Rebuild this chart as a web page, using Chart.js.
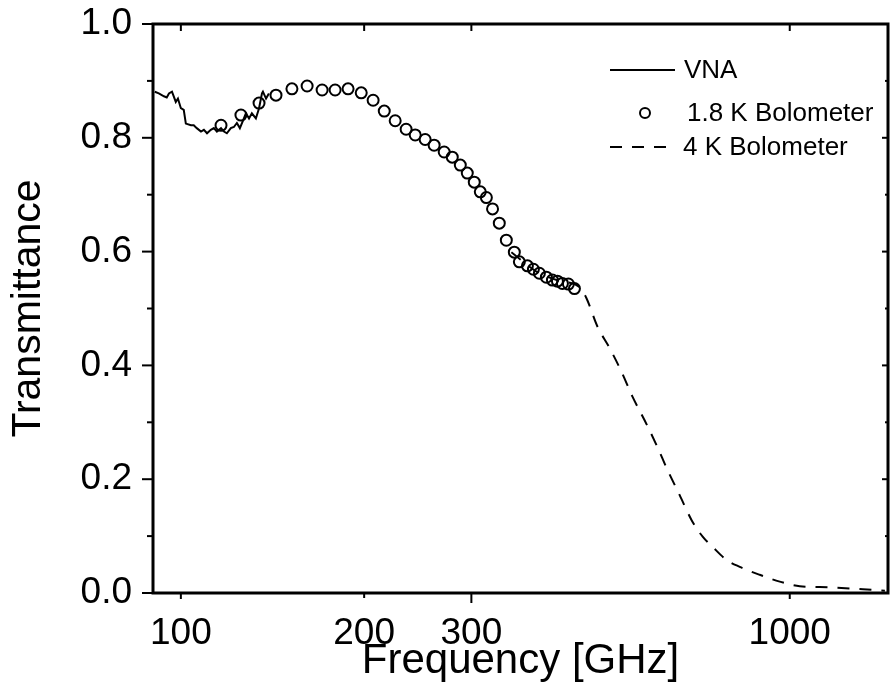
<!DOCTYPE html>
<html>
<head>
<meta charset="utf-8">
<script src="https://cdn.jsdelivr.net/npm/chart.js@4/dist/chart.umd.min.js"></script>
<style>
html,body{margin:0;padding:0;background:#fff;}
#wrap{width:896px;height:694px;position:relative;}
</style>
</head>
<body>
<div id="wrap"><canvas id="c" width="896" height="694"></canvas></div>
<script>
// ---- data ----
const vnaFreq = [90.6, 92.0, 93.8, 94.8, 95.6, 96.7, 98.1, 98.9, 100, 101.1, 101.9, 103.9, 105.0, 106.2, 107.9, 109.1, 110.4, 112.0, 113.3, 114.6, 116.4, 117.7, 119.0, 120.8, 122.2, 123.6, 125.0, 126.0, 127.9, 129.4, 130.8, 132.8, 134.4, 135.9, 136.4, 138.0, 139.5];
const vnaT = [0.881, 0.878, 0.873, 0.871, 0.878, 0.881, 0.863, 0.869, 0.852, 0.849, 0.825, 0.822, 0.822, 0.817, 0.811, 0.814, 0.808, 0.814, 0.817, 0.811, 0.817, 0.811, 0.808, 0.817, 0.819, 0.826, 0.817, 0.826, 0.843, 0.834, 0.843, 0.834, 0.852, 0.878, 0.881, 0.869, 0.878];

const bolo18Freq = [116.4, 125.5, 134.4, 143.3, 152.2, 161.2, 170.6, 179.2, 188.2, 197.8, 206.9, 215.8, 224.9, 234.4, 242.6, 251.9, 260.6, 270.7, 279.1, 287.7, 295.4, 303.3, 310.3, 317.5, 325.0, 333.4, 342.4, 352.9, 359.7, 370.8, 379.3, 388.0, 398.4, 407.6, 415.4, 423.3, 433.0, 443.0];
const bolo18T = [0.822, 0.840, 0.861, 0.875, 0.886, 0.891, 0.884, 0.884, 0.886, 0.879, 0.866, 0.847, 0.830, 0.815, 0.805, 0.797, 0.787, 0.775, 0.766, 0.752, 0.738, 0.722, 0.705, 0.695, 0.675, 0.650, 0.620, 0.599, 0.582, 0.575, 0.569, 0.562, 0.555, 0.550, 0.548, 0.544, 0.543, 0.535];

const bolo4Freq = [349, 383.7, 420, 451.4, 463.6, 483.4, 505.7, 529.2, 551.7, 577.3, 604.2, 630, 659.5, 690, 719.4, 747.2, 787.8, 827.7, 892.6, 963, 1038.5, 1163.5, 1318.6, 1433];
const bolo4T = [0.599, 0.565, 0.548, 0.538, 0.518, 0.468, 0.431, 0.389, 0.345, 0.304, 0.260, 0.216, 0.172, 0.128, 0.099, 0.081, 0.058, 0.046, 0.032, 0.020, 0.012, 0.010, 0.0065, 0.004];

const xTickValues = [100, 200, 300, 1000];
const yTickValues = [0, 0.2, 0.4, 0.6, 0.8, 1.0];
const yMinorValues = [0.1, 0.3, 0.5, 0.7, 0.9];
const seriesNames = ['VNA', '1.8 K Bolometer', '4 K Bolometer'];
const xTitle = 'Frequency [GHz]';
const yTitle = 'Transmittance';

const FONT = "'Liberation Sans', Arial, sans-serif";
const toPts = (xs, ys) => xs.map((v, i) => ({x: v, y: ys[i]}));

const frame = {
  id: 'frame',
  afterDraw(chart) {
    const {ctx, chartArea: {left, right, top, bottom}, scales: {x, y}} = chart;
    ctx.save();
    ctx.strokeStyle = '#000';
    const seg = (x1, y1, x2, y2) => { ctx.beginPath(); ctx.moveTo(x1, y1); ctx.lineTo(x2, y2); ctx.stroke(); };
    ctx.lineWidth = 2;
    yTickValues.forEach(v => { const p = y.getPixelForValue(v); seg(left - 11, p, left, p); seg(right - 6, p, right, p); });
    yMinorValues.forEach(v => { const p = y.getPixelForValue(v); seg(left - 6, p, left, p); seg(right - 3, p, right, p); });
    const bl = {100: 6, 200: 5, 300: 10, 1000: 6};
    xTickValues.forEach(v => { const p = x.getPixelForValue(v); seg(p, bottom, p, bottom + (bl[v] || 6)); seg(p, top, p, top + 7); });
    ctx.lineWidth = 3;
    ctx.strokeRect(left, top, right - left, bottom - top);

    // legend
    ctx.lineWidth = 2;
    ctx.fillStyle = '#000';
    ctx.font = '26px ' + FONT;
    ctx.textAlign = 'left';
    ctx.textBaseline = 'middle';
    seg(610, 70, 675, 70);
    ctx.fillText(seriesNames[0], 684, 71);
    ctx.beginPath(); ctx.arc(645, 113, 5, 0, Math.PI * 2); ctx.stroke();
    ctx.fillText(seriesNames[1], 687, 114);
    ctx.setLineDash([12, 10]);
    seg(610, 147, 672, 147);
    ctx.setLineDash([]);
    ctx.fillText(seriesNames[2], 683, 148);
    ctx.restore();
  }
};

new Chart(document.getElementById('c'), {
  type: 'scatter',
  data: {
    datasets: [
      {label: seriesNames[2], data: toPts(bolo4Freq, bolo4T), showLine: true, borderColor: '#000', borderWidth: 2, borderDash: [12, 10], pointRadius: 0, tension: 0.3, cubicInterpolationMode: 'monotone', fill: false},
      {label: seriesNames[0], data: toPts(vnaFreq, vnaT), showLine: true, borderColor: '#000', borderWidth: 2, pointRadius: 0, tension: 0, fill: false},
      {label: seriesNames[1], data: toPts(bolo18Freq, bolo18T), showLine: false, pointRadius: 5.5, pointBorderWidth: 2, pointBorderColor: '#000', pointBackgroundColor: 'rgba(255,255,255,0)', pointStyle: 'circle'}
    ]
  },
  options: {
    responsive: false,
    animation: false,
    devicePixelRatio: 1,
    layout: {padding: {top: 24, right: 8, left: 0, bottom: 0}},
    plugins: {legend: {display: false}, tooltip: {enabled: false}},
    scales: {
      x: {
        type: 'logarithmic', min: 90, max: 1450,
        grid: {display: false, drawTicks: false}, border: {display: false},
        afterBuildTicks: s => { s.ticks = xTickValues.map(v => ({value: v})); },
        afterFit: s => { s.height = 101; s.paddingLeft = 0; s.paddingRight = 0; },
        ticks: {autoSkip: false, maxRotation: 0, padding: 19, color: '#000', font: {family: FONT, size: 37}, callback: v => String(v)},
        title: {display: true, text: xTitle, color: '#000', font: {family: FONT, size: 42}, padding: {top: 0, bottom: 7}}
      },
      y: {
        type: 'linear', min: 0, max: 1,
        grid: {display: false, drawTicks: false}, border: {display: false},
        afterBuildTicks: s => { s.ticks = yTickValues.map(v => ({value: v})); },
        afterFit: s => { s.width = 153; s.paddingTop = 0; s.paddingBottom = 0; },
        ticks: {padding: 21, color: '#000', font: {family: FONT, size: 37}, callback: v => Number(v).toFixed(1)},
        title: {display: true, text: yTitle, color: '#000', font: {family: FONT, size: 41}, padding: {top: 4, bottom: 0}}
      }
    }
  },
  plugins: [frame]
});
</script>
</body>
</html>
